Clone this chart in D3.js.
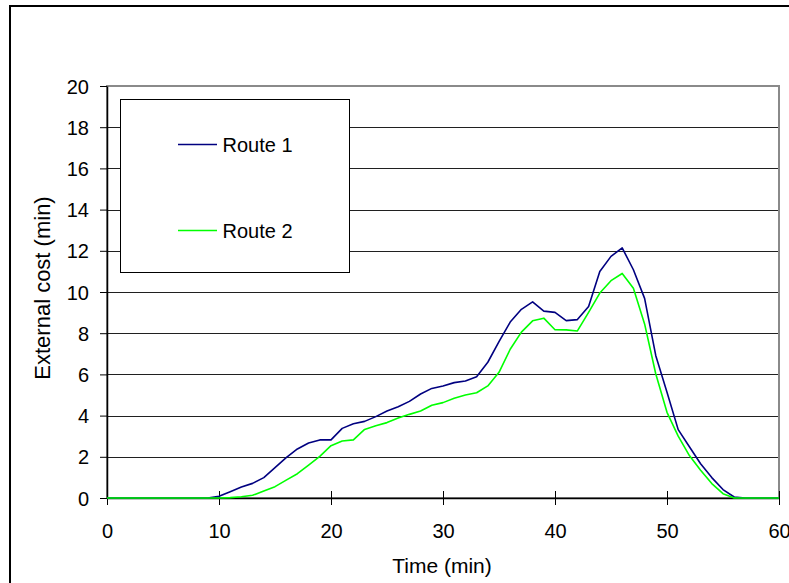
<!DOCTYPE html>
<html><head><meta charset="utf-8">
<script src="https://cdn.jsdelivr.net/npm/d3@7"></script>
<style>html,body{margin:0;padding:0;background:#fff;}svg{display:block;font-family:"Liberation Sans",Arial,sans-serif;}</style>
</head><body>
<svg id="c" width="789" height="583"></svg>
<script>
const times = d3.range(0, 61);
const route1 = [0,0,0,0,0,0,0,0,0,0,
  0.08,0.3,0.53,0.71,0.99,1.47,1.96,2.38,2.67,2.82,
  2.82,3.38,3.6,3.72,3.95,4.22,4.43,4.69,5.05,5.32,
  5.44,5.6,5.68,5.89,6.59,7.59,8.54,9.16,9.52,9.07,
  9.01,8.61,8.66,9.3,11.0,11.73,12.14,11.08,9.69,6.91,
  5.13,3.32,2.49,1.66,0.99,0.41,0.05,0,0,0,0];
const route2 = [0,0,0,0,0,0,0,0,0,0,
  0,0.02,0.06,0.13,0.34,0.55,0.87,1.18,1.6,2.02,
  2.54,2.77,2.82,3.33,3.51,3.66,3.88,4.06,4.22,4.5,
  4.63,4.84,5.0,5.11,5.44,6.1,7.22,8.05,8.6,8.73,
  8.17,8.16,8.11,9.01,9.95,10.55,10.9,10.18,8.45,6.02,
  4.16,3.0,2.06,1.35,0.7,0.21,0,0,0,0,0];
const seriesNames = ["Route 1", "Route 2"];
const seriesColors = ["#000080", "#00ff00"];
const xTicks = [0,10,20,30,40,50,60];
const yTicks = [0,2,4,6,8,10,12,14,16,18,20];
const xTitle = "Time (min)";
const yTitle = "External cost (min)";

const svg = d3.select("#c");
const L = 107, R = 779, T = 86, B = 498;
const x = d3.scaleLinear().domain([0,60]).range([L,R]);
const y = d3.scaleLinear().domain([0,20]).range([B,T]);

// outer frame
svg.append("rect").attr("x",10).attr("y",6).attr("width",800).attr("height",600)
  .attr("fill","#fff").attr("stroke","#000").attr("stroke-width",2);

// gridlines
svg.append("g").selectAll("line").data(yTicks.filter(d=>d>0 && d<20)).join("line")
  .attr("x1",L).attr("x2",R).attr("y1",d=>Math.round(y(d))+0.5).attr("y2",d=>Math.round(y(d))+0.5)
  .attr("stroke","#202020").attr("stroke-width",1.2);

// plot area border
svg.append("rect").attr("x",L).attr("y",T).attr("width",R-L).attr("height",B-T)
  .attr("fill","none").attr("stroke","#8a8a8a").attr("stroke-width",2);

// y axis
const yAxis = svg.append("g").attr("transform",`translate(${L},0)`)
  .call(d3.axisLeft(y).tickValues(yTicks).tickSizeInner(7).tickSizeOuter(0).tickPadding(11));
yAxis.select(".domain").attr("stroke","#000").attr("stroke-width",1.5);
yAxis.selectAll(".tick line").attr("stroke","#000");
yAxis.selectAll(".tick text").attr("font-size",20).attr("fill","#000")
  .attr("font-family","Liberation Sans, Arial, sans-serif").attr("dy","0.35em");

// x axis
const xAxis = svg.append("g").attr("transform",`translate(0,${B})`)
  .call(d3.axisBottom(x).tickValues(xTicks).tickSizeInner(7).tickSizeOuter(0));
xAxis.select(".domain").attr("stroke","#000").attr("stroke-width",1.5);
xAxis.selectAll(".tick line").attr("stroke","#000").attr("y1",-7).attr("y2",7);
xAxis.selectAll(".tick text").attr("font-size",20).attr("fill","#000")
  .attr("font-family","Liberation Sans, Arial, sans-serif").attr("y",40).attr("dy",0);

// lines
const line = d3.line().x((d,i)=>x(times[i])).y(d=>y(d));
[route1, route2].forEach((s,k)=>{
  svg.append("path").datum(s).attr("d",line).attr("fill","none")
    .attr("stroke",seriesColors[k]).attr("stroke-width",1.6).attr("stroke-linejoin","round");
});

// legend
svg.append("rect").attr("x",120.5).attr("y",99.5).attr("width",229).attr("height",173)
  .attr("fill","#fff").attr("stroke","#000").attr("stroke-width",1);
const legY = [144, 230];
seriesNames.forEach((n,k)=>{
  svg.append("line").attr("x1",178).attr("x2",217).attr("y1",legY[k]+0.5).attr("y2",legY[k]+0.5)
    .attr("stroke",seriesColors[k]).attr("stroke-width",1.6);
  svg.append("text").attr("x",222.5).attr("y",legY[k]+7.5).attr("font-size",20).attr("fill","#000").text(n);
});

// titles
svg.append("text").attr("x",442).attr("y",573).attr("text-anchor","middle").attr("font-size",21).attr("fill","#000").text(xTitle);
svg.append("text").attr("transform","translate(50,288) rotate(-90)").attr("text-anchor","middle")
  .attr("font-size",22).attr("fill","#000").text(yTitle);
</script>
</body></html>
